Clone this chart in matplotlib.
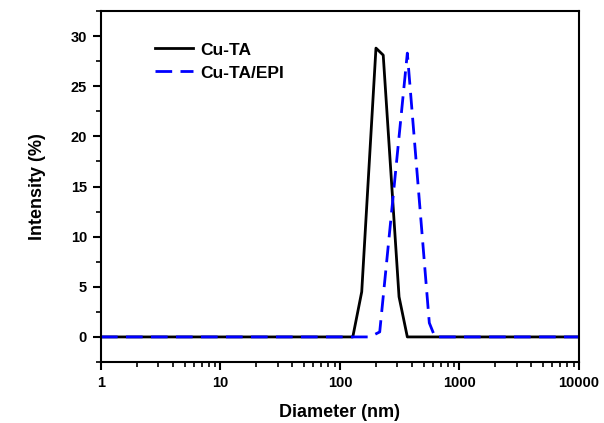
import matplotlib
matplotlib.use('Agg')
import matplotlib.pyplot as plt
from matplotlib.ticker import LogLocator, MultipleLocator, FixedFormatter, FixedLocator

plt.rcParams['font.family'] = ['Liberation Sans', 'DejaVu Sans']
plt.rcParams['font.weight'] = 'bold'

# Size distributions (diameter in nm, intensity in %)
cuta_d = [1, 128, 152, 200, 230, 312, 366, 10000]
cuta_i = [0, 0, 4.5, 28.8, 28.1, 4.0, 0, 0]

cuta_epi_d = [1, 178, 215, 366, 559, 623, 10000]
cuta_epi_i = [0, 0, 0.5, 28.3, 1.4, 0, 0]

x_ticks = [1, 10, 100, 1000, 10000]
x_tick_labels = ['1', '10', '100', '1000', '10000']

fig = plt.figure(figsize=(6.04, 4.23), dpi=100)
ax = fig.add_axes([0.1672, 0.1442, 0.7914, 0.8298])

ax.plot(cuta_d, cuta_i, color='black', lw=2.0, label='Cu-TA')
ax.plot(cuta_epi_d, cuta_epi_i, color='#0000ff', lw=2.0, ls=(0, (6, 3)), label='Cu-TA/EPI')

ax.set_xscale('log')
ax.set_xlim(1, 10000)
ax.set_ylim(-2.5, 32.5)

ax.xaxis.set_major_locator(FixedLocator(x_ticks))
ax.xaxis.set_major_formatter(FixedFormatter(x_tick_labels))
ax.xaxis.set_minor_locator(LogLocator(base=10, subs=range(2, 10)))
ax.xaxis.set_minor_formatter(plt.NullFormatter())
ax.yaxis.set_major_locator(MultipleLocator(5))
ax.yaxis.set_minor_locator(MultipleLocator(2.5))

for s in ax.spines.values():
    s.set_linewidth(1.5)

ax.tick_params(which='major', direction='out', length=6, width=1.5, labelsize=10.5, pad=4)
ax.tick_params(which='minor', direction='out', length=3.5, width=1.2)
ax.tick_params(top=False, right=False, which='both')
for lbl in ax.get_xticklabels() + ax.get_yticklabels():
    lbl.set_fontweight('bold')

ax.set_xlabel('Diameter (nm)', fontsize=13, fontweight='bold', labelpad=10)
ax.set_ylabel('Intensity (%)', fontsize=13, fontweight='bold', labelpad=18)

leg = ax.legend(loc='upper left', bbox_to_anchor=(0.08, 0.955), frameon=False,
                handlelength=2.2, handletextpad=0.4, labelspacing=0.45,
                prop={'size': 12.5, 'weight': 'bold'})

fig.savefig('out.png', dpi=100, facecolor='white')
